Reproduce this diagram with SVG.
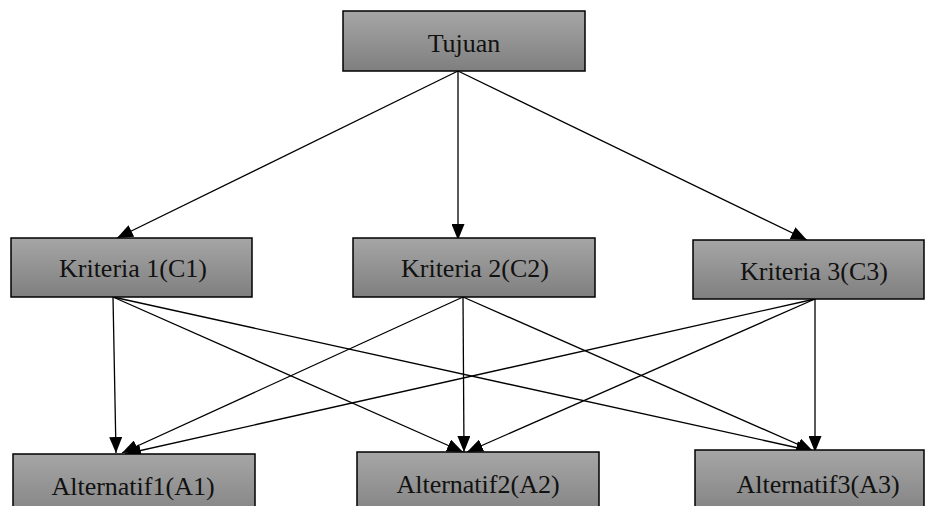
<svg xmlns="http://www.w3.org/2000/svg" width="926" height="506" viewBox="0 0 926 506">
<defs>
<linearGradient id="g" x1="0" y1="0" x2="0" y2="1">
<stop offset="0" stop-color="#a6a6a6"/>
<stop offset="1" stop-color="#7f7f7f"/>
</linearGradient>
<marker id="ah" markerUnits="userSpaceOnUse" markerWidth="16" markerHeight="13" refX="16" refY="6.5" orient="auto">
<path d="M0,0 L16,6.5 L0,13 z" fill="#000"/>
</marker>
<style>
.box{fill:url(#g);stroke:#000;stroke-width:1.5}
.lbl{font-family:"Liberation Serif","Times New Roman",serif;font-size:26px;fill:#111;text-anchor:middle}
.c{stroke:#000;stroke-width:1.3;fill:none;marker-end:url(#ah)}
</style>
</defs>
<rect width="926" height="506" fill="#fff"/>
<g id="connectors">
<line class="c" x1="458" y1="71" x2="117" y2="238"/>
<line class="c" x1="458" y1="71" x2="458" y2="240"/>
<line class="c" x1="458" y1="71" x2="807" y2="240"/>
<line class="c" x1="113" y1="297" x2="116" y2="453"/>
<line class="c" x1="113" y1="297" x2="463" y2="452"/>
<line class="c" x1="113" y1="297" x2="812" y2="451"/>
<line class="c" x1="463" y1="297" x2="122" y2="453"/>
<line class="c" x1="463" y1="297" x2="464" y2="452"/>
<line class="c" x1="463" y1="297" x2="813" y2="451"/>
<line class="c" x1="815" y1="299" x2="125" y2="454"/>
<line class="c" x1="815" y1="299" x2="467" y2="452"/>
<line class="c" x1="815" y1="299" x2="815" y2="452"/>
</g>
<g id="tujuan">
<rect class="box" x="343" y="11" width="242" height="60"/>
<text class="lbl" x="464" y="52">Tujuan</text>
</g>
<g id="c1">
<rect class="box" x="11" y="238" width="241" height="59"/>
<text class="lbl" x="133" y="277">Kriteria 1(C1)</text>
</g>
<g id="c2">
<rect class="box" x="353" y="238" width="242" height="59"/>
<text class="lbl" x="475" y="277">Kriteria 2(C2)</text>
</g>
<g id="c3">
<rect class="box" x="693" y="240" width="231" height="59"/>
<text class="lbl" x="814" y="280">Kriteria 3(C3)</text>
</g>
<g id="a1">
<rect class="box" x="13" y="454" width="242" height="70"/>
<text class="lbl" x="133" y="495">Alternatif1(A1)</text>
</g>
<g id="a2">
<rect class="box" x="357" y="452" width="242" height="70"/>
<text class="lbl" x="478" y="493">Alternatif2(A2)</text>
</g>
<g id="a3">
<rect class="box" x="695" y="450" width="229" height="70"/>
<text class="lbl" x="818" y="493">Alternatif3(A3)</text>
</g>
</svg>
